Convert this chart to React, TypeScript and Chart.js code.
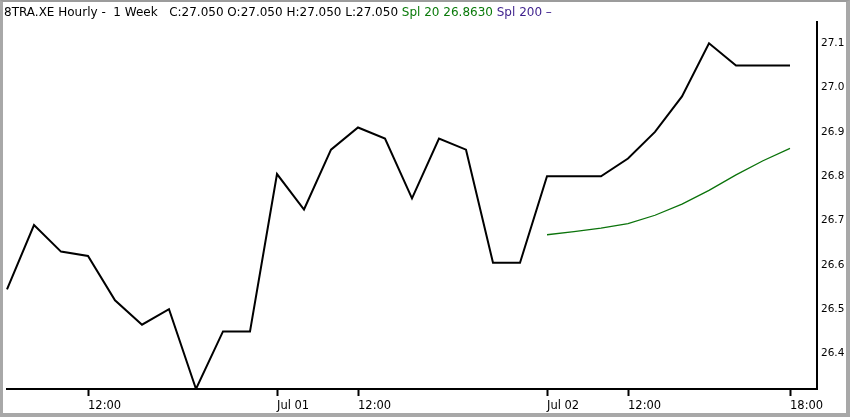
import React, { useEffect, useRef } from 'react';
import { Chart, registerables } from 'chart.js';

Chart.register(...registerables);

// Hourly bars, three trading days (09:00 .. 18:00), plus one empty slot at the right edge
const categories = [
  '09:00', '10:00', '11:00', '12:00', '13:00', '14:00', '15:00', '16:00', '17:00', '18:00',
  'Jul 01', '10:00', '11:00', '12:00', '13:00', '14:00', '15:00', '16:00', '17:00', '18:00',
  'Jul 02', '10:00', '11:00', '12:00', '13:00', '14:00', '15:00', '16:00', '17:00', '18:00',
  '',
];

const closeValues = [
  26.545, 26.69, 26.63, 26.62, 26.52, 26.465, 26.5, 26.32, 26.45, 26.45,
  26.805, 26.725, 26.86, 26.91, 26.885, 26.75, 26.885, 26.86, 26.605, 26.605,
  26.8, 26.8, 26.8, 26.84, 26.9, 26.98, 27.1, 27.05, 27.05, 27.05,
];

const spl20Values = [
  null, null, null, null, null, null, null, null, null, null,
  null, null, null, null, null, null, null, null, null, null,
  26.668, 26.675, 26.683, 26.693, 26.712, 26.737, 26.768, 26.803, 26.835, 26.863,
];

const shownTickIndex = [3, 10, 13, 20, 23, 29];
const yTickValues = [26.4, 26.5, 26.6, 26.7, 26.8, 26.9, 27.0, 27.1];
const yMin = 26.32;
const yMax = 27.148;

const headerMain = '8TRA.XE Hourly -  1 Week   C:27.050 O:27.050 H:27.050 L:27.050 ';
const headerSpl20 = 'Spl 20 26.8630 ';
const headerSpl200 = 'Spl 200 \u2013';

export default function App() {
  const ref = useRef<HTMLCanvasElement>(null);

  useEffect(() => {
    const chart = new Chart(ref.current!, {
      type: 'line',
      data: {
        labels: categories,
        datasets: [
          {
            data: closeValues,
            borderColor: '#000000',
            borderWidth: 2,
            pointRadius: 0,
            tension: 0,
            fill: false,
          },
          {
            data: spl20Values as any,
            borderColor: '#0b730b',
            borderWidth: 1.3,
            pointRadius: 0,
            tension: 0,
            fill: false,
          },
        ],
      },
      options: {
        animation: false,
        responsive: false,
        maintainAspectRatio: false,
        layout: { padding: { left: 7, top: 22, right: 0, bottom: 0 } },
        plugins: { legend: { display: false }, tooltip: { enabled: false }, title: { display: false } },
        scales: {
          x: {
            type: 'category',
            offset: false,
            grid: { drawOnChartArea: false, tickLength: 7, tickColor: '#000', tickWidth: 2 },
            border: { color: '#000', width: 2 },
            ticks: {
              autoSkip: false,
              maxRotation: 0,
              minRotation: 0,
              align: 'start',
              padding: 3,
              color: '#000',
              font: { family: 'DejaVu Sans', size: 11.5 },
            },
            afterBuildTicks: (s: any) => {
              s.ticks = s.ticks.filter((t: any) => shownTickIndex.includes(t.value));
            },
            afterFit: (s: any) => {
              s.height = 28;
            },
          },
          y: {
            position: 'right',
            min: yMin,
            max: yMax,
            grid: { drawOnChartArea: false, drawTicks: false },
            border: { color: '#000', width: 2 },
            ticks: {
              padding: 4,
              color: '#000',
              font: { family: 'DejaVu Sans', size: 10.5 },
              callback: (v: any) => Number(v).toFixed(1),
            },
            afterBuildTicks: (s: any) => {
              s.ticks = yTickValues.map((v) => ({ value: v }));
            },
            afterFit: (s: any) => {
              s.width = 33;
            },
          },
        },
      },
    });
    return () => chart.destroy();
  }, []);

  return (
    <div style={{ position: 'absolute', left: 0, top: 0, width: 850, height: 417, background: '#fff' }}>
      <canvas ref={ref} width={850} height={417} style={{ display: 'block', position: 'absolute', left: 0, top: 0 }} />
      <div
        style={{
          position: 'absolute',
          left: 4,
          top: 4,
          fontFamily: 'DejaVu Sans',
          fontSize: 12,
          lineHeight: '16px',
          whiteSpace: 'pre',
          color: '#000',
        }}
      >
        <span>{headerMain}</span>
        <span style={{ color: '#0a7a0a' }}>{headerSpl20}</span>
        <span style={{ color: '#3d1f8c' }}>{headerSpl200}</span>
      </div>
      <div
        style={{
          position: 'absolute',
          left: 0,
          top: 0,
          width: 850,
          height: 417,
          boxSizing: 'border-box',
          borderTop: '2px solid #9c9c9c',
          borderLeft: '3px solid #a8a8a8',
          borderRight: '4px solid #a8a8a8',
          borderBottom: '4px solid #a8a8a8',
          pointerEvents: 'none',
        }}
      />
    </div>
  );
}
